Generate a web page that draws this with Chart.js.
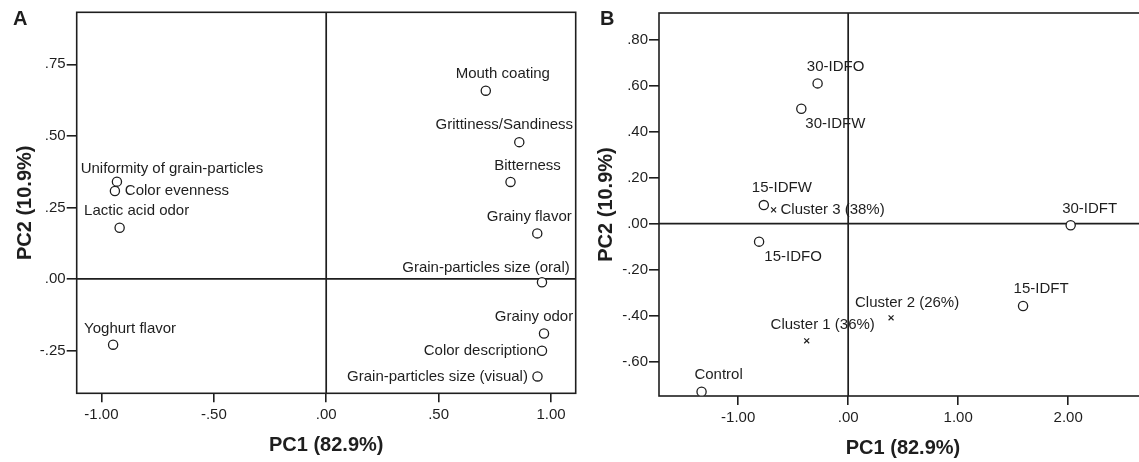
<!DOCTYPE html>
<html>
<head>
<meta charset="utf-8">
<script src="https://cdn.jsdelivr.net/npm/chart.js@4.4.0/dist/chart.umd.min.js"></script>
<style>
html, body { margin: 0; padding: 0; background: #fff; }
#wrap { position: relative; width: 1139px; height: 462px; overflow: hidden; }
#boxA { position: absolute; left: 0; top: 0; }
#boxB { position: absolute; left: 580px; top: 0; }
</style>
</head>
<body>
<div id="wrap">
  <div id="boxA"><canvas id="chartA" width="590" height="462"></canvas></div>
  <div id="boxB"><canvas id="chartB" width="580" height="462"></canvas></div>
</div>
<script>
// Panel A - sensory attributes
const attrNames = ['Mouth coating', 'Grittiness/Sandiness', 'Bitterness', 'Grainy flavor',
    'Grain-particles size (oral)', 'Grainy odor', 'Color description', 'Grain-particles size (visual)',
    'Uniformity of grain-particles', 'Color evenness', 'Lactic acid odor', 'Yoghurt flavor'];
const attrPC1 = [0.710, 0.859, 0.820, 0.939, 0.960, 0.969, 0.960, 0.940, -0.931, -0.940, -0.919, -0.948];
const attrPC2 = [0.658, 0.478, 0.339, 0.159, -0.012, -0.191, -0.251, -0.341, 0.340, 0.307, 0.179, -0.230];
// label placement (px from the point)
const attrDx = [17, -15, 17, -8, -56, -10, -62, -100, 55, 62, 17, 17];
const attrDy = [-17, -17, -16, -17, -14, -17, 0, 0, -13, 0, -17, -16];

// Panel B - samples and cluster centres
const sampleNames = ['30-IDFO', '30-IDFW', '15-IDFW', '15-IDFO', '30-IDFT', '15-IDFT', 'Control'];
const samplePC1 = [-0.278, -0.426, -0.767, -0.810, 2.023, 1.590, -1.333];
const samplePC2 = [0.610, 0.500, 0.081, -0.078, -0.007, -0.358, -0.730];
const sampleDx = [18, 34, 18, 34, 19, 18, 17];
const sampleDy = [-17, 15, -17, 15, -16, -17, -17];

const clusterNames = ['Cluster 3 (38%)', 'Cluster 2 (26%)', 'Cluster 1 (36%)'];
const clusterPC1 = [-0.678, 0.390, -0.377];
const clusterPC2 = [0.060, -0.409, -0.509];
const clusterDx = [59, 16, 16];
const clusterDy = [0, -15, -16];

const ticksAx = [-1, -0.5, 0, 0.5, 1];
const ticksAy = [-0.25, 0, 0.25, 0.5, 0.75];
const ticksBx = [-1, 0, 1, 2];
const ticksBy = [-0.6, -0.4, -0.2, 0, 0.2, 0.4, 0.6, 0.8];

const FONT = '"Liberation Sans", Arial, sans-serif';
const INK = '#1e1e1e';

function fmt(v) {
    const s = Math.abs(v).toFixed(2).replace(/^0/, '');
    return (v < -1e-9 ? '-' : '') + s;
}

function points(xs, ys) {
    return xs.map((x, i) => ({ x: x, y: ys[i] }));
}

const framePlugin = {
    id: 'frame',
    beforeDatasetsDraw(chart) {
        const { ctx, chartArea: a, scales } = chart;
        const x0 = scales.x.getPixelForValue(0);
        const y0 = scales.y.getPixelForValue(0);
        ctx.save();
        ctx.strokeStyle = INK;
        ctx.lineWidth = 1.7;
        ctx.beginPath();
        ctx.moveTo(a.left, y0); ctx.lineTo(a.right, y0);
        ctx.moveTo(x0, a.top); ctx.lineTo(x0, a.bottom);
        ctx.stroke();
        ctx.lineWidth = 1.6;
        ctx.strokeRect(a.left, a.top, a.right - a.left, a.bottom - a.top);
        ctx.restore();
    },
    afterDatasetsDraw(chart, args, opts) {
        const ctx = chart.ctx;
        ctx.save();
        ctx.fillStyle = INK;
        ctx.font = '15px ' + FONT;
        ctx.textAlign = 'center';
        ctx.textBaseline = 'middle';
        chart.data.datasets.forEach((ds, i) => {
            const meta = chart.getDatasetMeta(i);
            meta.data.forEach((pt, j) => {
                ctx.fillText(ds.names[j], pt.x + ds.dx[j], pt.y + ds.dy[j]);
            });
        });
        ctx.font = 'bold 20px ' + FONT;
        ctx.textAlign = 'left';
        ctx.textBaseline = 'alphabetic';
        ctx.fillText(opts.letter, opts.letterX, 25);
        ctx.restore();
    }
};

function makeChart(id, cfg) {
    return new Chart(document.getElementById(id), {
        type: 'scatter',
        data: { datasets: cfg.datasets },
        options: {
            responsive: false,
            animation: false,
            events: [],
            layout: { padding: { top: cfg.top, right: cfg.right, left: 0, bottom: 0 } },
            plugins: {
                legend: { display: false },
                tooltip: { enabled: false },
                frame: { letter: cfg.letter, letterX: cfg.letterX }
            },
            scales: {
                x: {
                    type: 'linear', min: cfg.xMin, max: cfg.xMax,
                    afterBuildTicks: s => { s.ticks = cfg.xTicks.map(v => ({ value: v })); },
                    afterFit: s => { s.height = cfg.xH; },
                    border: { display: false },
                    grid: { drawOnChartArea: false, drawTicks: true, tickLength: 9, color: INK, lineWidth: 1.6 },
                    ticks: { callback: v => fmt(v), color: INK, padding: 4, maxRotation: 0, font: { size: 15, family: FONT } },
                    title: { display: true, text: 'PC1 (82.9%)', color: INK, padding: { bottom: cfg.xTitlePad }, font: { size: 20, weight: 'bold', family: FONT } }
                },
                y: {
                    type: 'linear', min: cfg.yMin, max: cfg.yMax,
                    afterBuildTicks: s => { s.ticks = cfg.yTicks.map(v => ({ value: v })); },
                    afterFit: s => { s.width = cfg.yW; },
                    border: { display: false },
                    grid: { drawOnChartArea: false, drawTicks: true, tickLength: 10, color: INK, lineWidth: 1.6 },
                    ticks: { callback: v => fmt(v), color: INK, padding: 1, font: { size: 15, family: FONT } },
                    title: { display: true, text: 'PC2 (10.9%)', color: INK, padding: { top: cfg.yTitlePad }, font: { size: 20, weight: 'bold', family: FONT } }
                }
            }
        },
        plugins: [framePlugin]
    });
}

const circleStyle = { pointStyle: 'circle', pointRadius: 4.6, borderWidth: 1.3, borderColor: INK, backgroundColor: '#fff' };
const crossStyle = { pointStyle: 'crossRot', pointRadius: 3.5, borderWidth: 1.2, borderColor: INK, backgroundColor: INK };

makeChart('chartA', {
    datasets: [Object.assign({ data: points(attrPC1, attrPC2), names: attrNames, dx: attrDx, dy: attrDy }, circleStyle)],
    xMin: -1.11, xMax: 1.11, yMin: -0.40, yMax: 0.932,
    xTicks: ticksAx, yTicks: ticksAy,
    top: 12.3, right: 14.3, xH: 68.7, yW: 76.7,
    xTitlePad: 5, yTitlePad: 13,
    letter: 'A', letterX: 13
});

makeChart('chartB', {
    datasets: [
        Object.assign({ data: points(samplePC1, samplePC2), names: sampleNames, dx: sampleDx, dy: sampleDy }, circleStyle),
        Object.assign({ data: points(clusterPC1, clusterPC2), names: clusterNames, dx: clusterDx, dy: clusterDy }, crossStyle)
    ],
    xMin: -1.72, xMax: 2.717, yMin: -0.749, yMax: 0.916,
    xTicks: ticksBx, yTicks: ticksBy,
    top: 13, right: 13, xH: 66, yW: 79,
    xTitlePad: 2, yTitlePad: 14,
    letter: 'B', letterX: 20
});
</script>
</body>
</html>
